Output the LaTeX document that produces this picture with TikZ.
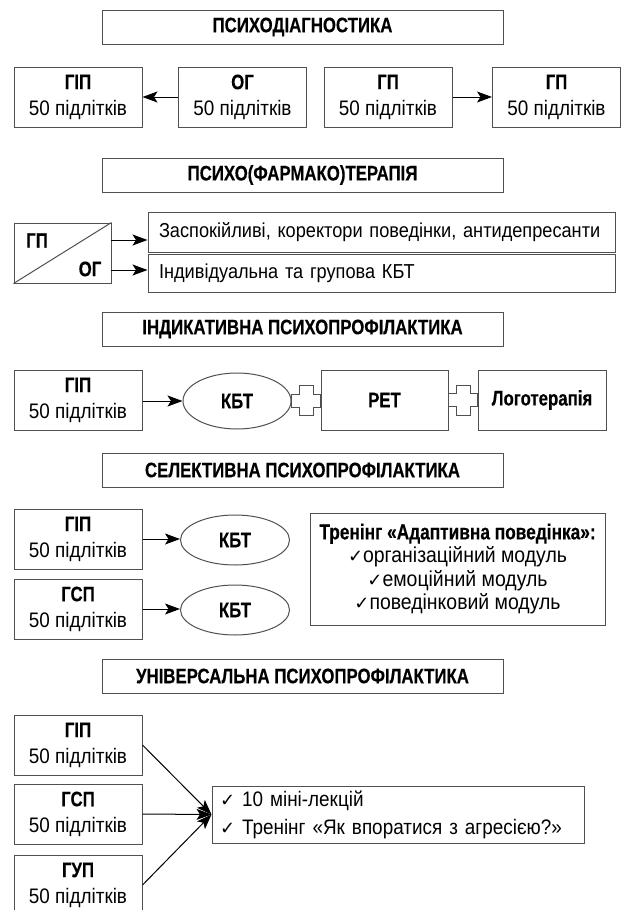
\documentclass[tikz,border=0pt]{standalone}
\usepackage{fontspec}
\setmainfont{Liberation Sans}[FakeStretch=0.9, BoldFeatures={FakeStretch=0.8,FakeBold=0.3}]
\newfontfamily\dvs{DejaVu Sans}
\usetikzlibrary{shapes.geometric,arrows.meta,calc}
\newcommand\ckm{{\dvs\fontsize{18}{20}\selectfont ✓}}
\definecolor{bordc}{HTML}{505050}
\hbadness=10000 \hfuzz=50pt
\tikzset{
  base/.style={draw=bordc, line width=1pt, inner sep=0pt},
  box/.style={base, minimum width=128pt, minimum height=60pt, align=center,
    font=\fontsize{21}{26}\selectfont},
  titlebox/.style={base, minimum width=401pt, minimum height=34pt,
    font=\fontsize{21}{24}\selectfont\bfseries},
  oval/.style={base, ellipse, minimum width=108pt, minimum height=56pt,
    font=\fontsize{21}{24}\selectfont\bfseries},
  lbox/.style={base, inner xsep=11pt, align=left, font=\fontsize{20.2}{24}\selectfont},
  arr/.style={-{Stealth[length=15pt,width=11pt,inset=3.5pt]}, line width=1pt, black},
  plus/.style={draw=bordc, line width=1pt},
}
\begin{document}
\begin{tikzpicture}[x=1pt,y=-1pt]
\clip (0,0) rectangle (621,910);
\fill[white] (0,0) rectangle (621,910);

% Section 1
\node[titlebox] (t1) at (302.5,27) {ПСИХОДІАГНОСТИКА};
\node[box] (a1) at (78,97) {\textbf{ГІП}\\50 підлітків};
\node[box] (b1) at (242.5,97) {\textbf{ОГ}\\50 підлітків};
\node[box] (c1) at (388,97) {\textbf{ГП}\\50 підлітків};
\node[box] (d1) at (556.5,97) {\textbf{ГП}\\50 підлітків};
\draw[arr] (b1.west) -- (a1.east);
\draw[arr] (c1.east) -- (d1.west);

% Section 2
\node[titlebox] (t2) at (302.5,175) {ПСИХО(ФАРМАКО)ТЕРАПІЯ};
\node[base, minimum width=97pt, minimum height=60pt] (sp) at (62.5,253) {};
\draw[draw=bordc, line width=1pt] (sp.south west) -- (sp.north east);
\node[font=\fontsize{21}{24}\selectfont\bfseries] (gp2) at (37,240.5) {ГП};
\node[font=\fontsize{21}{24}\selectfont\bfseries] (og2) at (90,269) {ОГ};
\node[lbox, minimum width=467pt, minimum height=40pt, text width=445pt] (r1) at (381.5,232) {\mbox{Заспокійливі, коректори поведінки, антидепресанти}};
\node[lbox, minimum width=467pt, minimum height=38pt, text width=445pt] (r2) at (381.5,273) {Індивідуальна та групова КБТ};
\coordinate (s1) at (111,240);
\coordinate (s2) at (111,270);
\draw[arr] (s1) -- (s1 -| r1.west);
\draw[arr] (s2) -- (s2 -| r2.west);

% Section 3
\node[titlebox] (t3) at (302.5,329) {ІНДИКАТИВНА ПСИХОПРОФІЛАКТИКА};
\node[box] (g3) at (78,400) {\textbf{ГІП}\\50 підлітків};
\node[oval] (k3) at (237,401) {КБТ};
\node[box, minimum width=127pt, font=\fontsize{21}{24}\selectfont\bfseries] (ret) at (384.5,400) {РЕТ};
\node[box, font=\fontsize{21}{24}\selectfont\bfseries] (logo) at (542,400) {Логотерапія};
\draw[arr] (g3.east |- k3) -- (k3.west);
\coordinate (p1) at ($(k3.east)!0.5!(ret.west)$);
\coordinate (p2) at ($(ret.east)!0.5!(logo.west)$);
\foreach \p in {p1,p2}{
  \draw[plus, shift={(\p)}] (-14.5,-6.5) -- (-7,-6.5) -- (-7,-15) -- (7,-15) -- (7,-6.5) -- (14.5,-6.5)
    -- (14.5,6.5) -- (7,6.5) -- (7,15) -- (-7,15) -- (-7,6.5) -- (-14.5,6.5) -- cycle;
}

% Section 4
\node[titlebox] (t4) at (302.5,470) {СЕЛЕКТИВНА ПСИХОПРОФІЛАКТИКА};
\node[box] (g4) at (78,539) {\textbf{ГІП}\\50 підлітків};
\node[box] (s4) at (78,609) {\textbf{ГСП}\\50 підлітків};
\node[oval, minimum width=109pt, minimum height=50pt] (k4a) at (235,540) {КБТ};
\node[oval, minimum width=109pt, minimum height=50pt] (k4b) at (235,610) {КБТ};
\draw[arr] (g4.east) -- (g4.east -| k4a.west);
\draw[arr] (s4.east) -- (s4.east -| k4b.west);
\node[base, minimum width=295pt, minimum height=112pt, align=center,
  font=\fontsize{21.6}{23.5}\selectfont] (tr) at (457.5,569)
  {\textbf{Тренінг «Адаптивна поведінка»:}\\\ckm організаційний модуль\\\ckm емоційний модуль\\\ckm поведінковий модуль};

% Section 5
\node[titlebox] (t5) at (302.5,676) {УНІВЕРСАЛЬНА ПСИХОПРОФІЛАКТИКА};
\node[box] (g5) at (78,745) {\textbf{ГІП}\\50 підлітків};
\node[box] (s5) at (78,814) {\textbf{ГСП}\\50 підлітків};
\node[box] (u5) at (78,885) {\textbf{ГУП}\\50 підлітків};
\node[lbox, inner xsep=8pt, minimum width=372pt, minimum height=57pt, text width=356pt,
  font=\fontsize{21}{28}\selectfont] (tg) at (398,814.5)
  {\ckm\ 10 міні-лекцій\\\ckm\ Тренінг «Як впоратися з агресією?»};
\draw[arr] (g5.east) -- (tg.west);
\draw[arr] (s5.east) -- (tg.west);
\draw[arr] (u5.east) -- (tg.west);
\end{tikzpicture}
\end{document}
